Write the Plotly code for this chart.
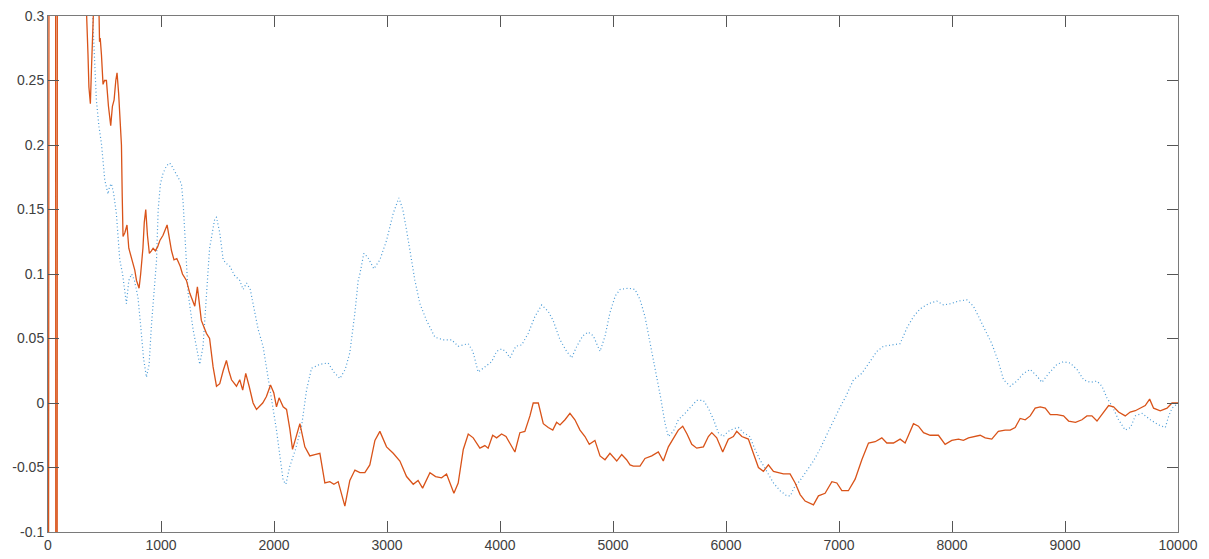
import plotly.graph_objects as go

# ---- data ----
orange_x = [0, 12, 66, 71, 79, 84, 338, 343, 348, 354, 362, 375, 385, 395, 405, 450, 456, 462, 473, 487, 500, 517, 535, 555, 570, 585, 600, 611, 625, 640, 650, 657, 664, 680, 699, 715, 738, 755, 768, 783, 806, 820, 840, 852, 865, 880, 897, 915, 930, 950, 970, 990, 1018, 1054, 1075, 1093, 1115, 1140, 1170, 1190, 1225, 1255, 1299, 1322, 1357, 1402, 1430, 1461, 1491, 1520, 1550, 1579, 1600, 1624, 1668, 1697, 1723, 1750, 1780, 1815, 1845, 1900, 1933, 1969, 1998, 2022, 2045, 2081, 2111, 2140, 2164, 2200, 2229, 2273, 2317, 2361, 2406, 2450, 2494, 2530, 2568, 2627, 2671, 2716, 2760, 2804, 2848, 2893, 2937, 2996, 3055, 3114, 3173, 3232, 3275, 3315, 3380, 3430, 3483, 3527, 3557, 3592, 3630, 3675, 3719, 3763, 3822, 3866, 3895, 3935, 3970, 4014, 4053, 4088, 4132, 4176, 4220, 4265, 4294, 4339, 4383, 4427, 4467, 4501, 4531, 4575, 4619, 4663, 4708, 4752, 4790, 4840, 4885, 4929, 4973, 5033, 5077, 5120, 5151, 5180, 5239, 5283, 5343, 5401, 5445, 5490, 5534, 5578, 5617, 5655, 5697, 5741, 5800, 5844, 5874, 5918, 5971, 6021, 6065, 6095, 6140, 6198, 6242, 6287, 6331, 6375, 6420, 6464, 6508, 6567, 6612, 6656, 6700, 6774, 6818, 6877, 6937, 6981, 7025, 7083, 7143, 7202, 7261, 7320, 7379, 7423, 7482, 7541, 7585, 7615, 7659, 7703, 7748, 7807, 7880, 7939, 7998, 8057, 8101, 8146, 8205, 8249, 8294, 8352, 8410, 8470, 8515, 8559, 8603, 8648, 8692, 8736, 8781, 8825, 8870, 8929, 8987, 9032, 9093, 9150, 9194, 9238, 9283, 9342, 9386, 9430, 9474, 9533, 9577, 9622, 9666, 9710, 9749, 9784, 9843, 9903, 9947, 10000]
orange_y = [-0.8, 0.8, 0.8, -0.8, -0.8, 0.8, 0.31, 0.29, 0.275, 0.27, 0.245, 0.232, 0.26, 0.29, 0.31, 0.31, 0.28, 0.283, 0.27, 0.247, 0.25, 0.25, 0.23, 0.215, 0.23, 0.235, 0.25, 0.256, 0.24, 0.215, 0.2, 0.16, 0.129, 0.132, 0.138, 0.12, 0.113, 0.108, 0.103, 0.095, 0.089, 0.1, 0.12, 0.14, 0.15, 0.13, 0.116, 0.118, 0.12, 0.118, 0.121, 0.126, 0.13, 0.138, 0.125, 0.118, 0.111, 0.112, 0.106, 0.1, 0.095, 0.085, 0.075, 0.09, 0.064, 0.054, 0.05, 0.028, 0.013, 0.015, 0.025, 0.033, 0.025, 0.018, 0.013, 0.018, 0.01, 0.023, 0.013, 0.0, -0.005, 0.0, 0.005, 0.014, 0.008, -0.003, 0.004, -0.003, -0.005, -0.02, -0.036, -0.025, -0.016, -0.034, -0.041, -0.04, -0.039, -0.062, -0.061, -0.063, -0.061, -0.08, -0.06, -0.052, -0.054, -0.054, -0.048, -0.029, -0.022, -0.034, -0.039, -0.045, -0.057, -0.063, -0.06, -0.066, -0.054, -0.057, -0.058, -0.055, -0.062, -0.07, -0.062, -0.036, -0.024, -0.027, -0.035, -0.033, -0.035, -0.025, -0.027, -0.024, -0.026, -0.031, -0.038, -0.023, -0.022, -0.01, 0.0, 0.0, -0.016, -0.019, -0.021, -0.015, -0.017, -0.013, -0.008, -0.013, -0.021, -0.026, -0.032, -0.029, -0.041, -0.044, -0.039, -0.045, -0.04, -0.044, -0.048, -0.049, -0.049, -0.043, -0.041, -0.038, -0.045, -0.034, -0.027, -0.021, -0.018, -0.024, -0.032, -0.035, -0.034, -0.026, -0.023, -0.027, -0.038, -0.028, -0.026, -0.022, -0.026, -0.028, -0.039, -0.05, -0.053, -0.048, -0.053, -0.054, -0.055, -0.055, -0.062, -0.071, -0.076, -0.079, -0.072, -0.07, -0.061, -0.062, -0.068, -0.068, -0.059, -0.044, -0.031, -0.03, -0.027, -0.031, -0.031, -0.028, -0.031, -0.025, -0.016, -0.018, -0.023, -0.025, -0.025, -0.032, -0.029, -0.028, -0.029, -0.027, -0.026, -0.025, -0.027, -0.028, -0.022, -0.021, -0.021, -0.019, -0.012, -0.013, -0.01, -0.004, -0.003, -0.004, -0.009, -0.009, -0.01, -0.014, -0.015, -0.013, -0.01, -0.01, -0.014, -0.007, -0.002, -0.003, -0.007, -0.01, -0.007, -0.006, -0.004, -0.002, 0.003, -0.004, -0.006, -0.004, 0.0, 0.0]

blue_x = [385, 398, 413, 428, 450, 473, 490, 502, 531, 545, 561, 580, 605, 620, 635, 660, 694, 715, 740, 765, 796, 820, 845, 871, 895, 915, 940, 960, 975, 995, 1018, 1050, 1078, 1100, 1150, 1181, 1196, 1210, 1240, 1284, 1343, 1372, 1400, 1430, 1476, 1491, 1520, 1550, 1580, 1609, 1650, 1697, 1727, 1757, 1790, 1830, 1860, 1903, 1963, 2022, 2081, 2105, 2140, 2190, 2244, 2288, 2332, 2406, 2479, 2530, 2583, 2630, 2671, 2716, 2745, 2760, 2795, 2830, 2884, 2937, 2996, 3055, 3105, 3140, 3173, 3210, 3247, 3291, 3350, 3424, 3497, 3572, 3630, 3719, 3760, 3807, 3866, 3926, 3970, 4014, 4050, 4088, 4140, 4192, 4250, 4309, 4369, 4427, 4470, 4531, 4590, 4634, 4680, 4732, 4780, 4826, 4885, 4930, 4973, 5020, 5062, 5135, 5195, 5240, 5283, 5330, 5372, 5420, 5461, 5490, 5534, 5578, 5637, 5690, 5741, 5800, 5844, 5890, 5932, 5975, 6020, 6065, 6110, 6155, 6210, 6257, 6300, 6361, 6420, 6479, 6538, 6570, 6600, 6656, 6715, 6774, 6830, 6884, 6940, 6999, 7060, 7128, 7202, 7240, 7276, 7335, 7394, 7467, 7541, 7600, 7659, 7718, 7792, 7866, 7925, 7990, 8057, 8131, 8190, 8235, 8294, 8352, 8411, 8456, 8515, 8574, 8633, 8692, 8750, 8796, 8856, 8930, 8987, 9045, 9106, 9165, 9223, 9283, 9327, 9371, 9420, 9474, 9533, 9580, 9622, 9682, 9756, 9828, 9888, 9918, 9947, 10000]
blue_y = [0.32, 0.297, 0.27, 0.235, 0.215, 0.201, 0.185, 0.173, 0.162, 0.168, 0.17, 0.163, 0.147, 0.13, 0.111, 0.1, 0.077, 0.095, 0.1, 0.095, 0.082, 0.06, 0.035, 0.02, 0.03, 0.06, 0.09, 0.11, 0.15, 0.17, 0.178, 0.184, 0.186, 0.183, 0.175, 0.17, 0.155, 0.132, 0.085, 0.057, 0.03, 0.044, 0.08, 0.12, 0.143, 0.144, 0.132, 0.111, 0.108, 0.106, 0.099, 0.095, 0.088, 0.093, 0.088, 0.07, 0.057, 0.044, 0.01, -0.021, -0.06, -0.063, -0.049, -0.036, -0.018, 0.01, 0.027, 0.03, 0.031, 0.024, 0.019, 0.026, 0.039, 0.07, 0.095, 0.1, 0.116, 0.113, 0.104, 0.111, 0.126, 0.147, 0.159, 0.15, 0.134, 0.116, 0.095, 0.077, 0.064, 0.051, 0.049, 0.049, 0.044, 0.046, 0.04, 0.024, 0.028, 0.032, 0.04, 0.042, 0.04, 0.035, 0.044, 0.045, 0.054, 0.067, 0.076, 0.071, 0.064, 0.049, 0.04, 0.035, 0.044, 0.052, 0.055, 0.052, 0.04, 0.052, 0.07, 0.083, 0.088, 0.089, 0.088, 0.08, 0.067, 0.046, 0.026, 0.005, -0.016, -0.026, -0.022, -0.013, -0.008, -0.003, 0.002, 0.002, -0.004, -0.013, -0.023, -0.026, -0.022, -0.02, -0.019, -0.023, -0.026, -0.036, -0.044, -0.053, -0.062, -0.068, -0.072, -0.072, -0.066, -0.06, -0.052, -0.045, -0.036, -0.026, -0.016, -0.005, 0.005, 0.018, 0.023, 0.028, 0.033, 0.04, 0.044, 0.045, 0.046, 0.058, 0.067, 0.073, 0.077, 0.079, 0.076, 0.077, 0.079, 0.08, 0.075, 0.067, 0.057, 0.046, 0.032, 0.018, 0.013, 0.017, 0.023, 0.026, 0.021, 0.016, 0.023, 0.03, 0.032, 0.031, 0.026, 0.018, 0.016, 0.017, 0.013, 0.004, -0.003, -0.013, -0.021, -0.019, -0.01, -0.008, -0.013, -0.017, -0.019, -0.01, -0.004, 0.0]

x_ticks = [0, 1000, 2000, 3000, 4000, 5000, 6000, 7000, 8000, 9000, 10000]
x_tick_text = ["0", "1000", "2000", "3000", "4000", "5000", "6000", "7000", "8000", "9000", "10000"]
y_ticks = [-0.1, -0.05, 0, 0.05, 0.1, 0.15, 0.2, 0.25, 0.3]
y_tick_text = ["-0.1", "-0.05", "0", "0.05", "0.1", "0.15", "0.2", "0.25", "0.3"]

fig = go.Figure()
fig.add_trace(go.Scatter(x=blue_x, y=blue_y, mode="lines",
                         line=dict(color="#4a9bd6", width=1.2, dash="1px,2.5px"),
                         showlegend=False))
fig.add_trace(go.Scatter(x=orange_x, y=orange_y, mode="lines",
                         line=dict(color="#D95319", width=1.3),
                         showlegend=False))

axis_common = dict(showgrid=False, zeroline=False, showline=True, linecolor="#7a7a7a",
                   linewidth=1, mirror="ticks", ticks="inside", ticklen=11,
                   tickcolor="#555555", tickwidth=1, automargin=False,
                   tickfont=dict(family="Liberation Sans, Arial, sans-serif", size=14, color="#404040"))

fig.update_layout(
    width=1209, height=559,
    margin=dict(l=48, r=31, t=16, b=27),
    paper_bgcolor="white", plot_bgcolor="white",
    xaxis=dict(range=[0, 10000], tickvals=x_ticks, ticktext=x_tick_text, **axis_common),
    yaxis=dict(range=[-0.1, 0.3], tickvals=y_ticks, ticktext=y_tick_text, **axis_common),
)

fig.write_html("out.html", config={"displayModeBar": False},
               post_script="document.body.style.margin='0';document.body.style.overflow='hidden';")
